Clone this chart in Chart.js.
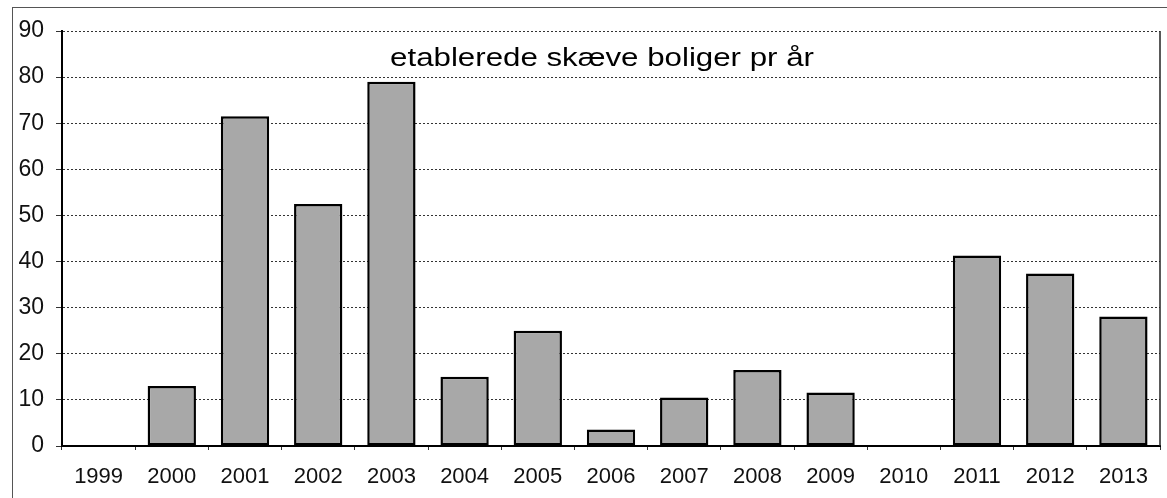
<!DOCTYPE html>
<html>
<head>
<meta charset="utf-8">
<script src="https://cdn.jsdelivr.net/npm/chart.js@4.4.0/dist/chart.umd.min.js"></script>
<style>
    body { margin: 0; background: #fff; }
    #wrap { position: relative; width: 1167px; height: 498px; }
    #frame { position: absolute; left: 12px; top: 7px; right: 0; bottom: 0; border-left: 1px solid #555; border-top: 1px solid #555; }
    canvas { position: absolute; left: 0; top: 0; }
</style>
</head>
<body>
<div id="wrap">
    <div id="frame"></div>
    <canvas id="chart" width="1167" height="498"></canvas>
</div>
<script>
const years = ['1999', '2000', '2001', '2002', '2003', '2004', '2005', '2006', '2007', '2008', '2009', '2010', '2011', '2012', '2013'];
const boliger = [0, 13, 71.5, 52.5, 79, 15, 25, 3.6, 10.5, 16.5, 11.6, 0, 41.3, 37.4, 28.1];
const yTicks = [0, 10, 20, 30, 40, 50, 60, 70, 80, 90];
const titleText = 'etablerede skæve boliger pr år';

// title sits inside the plot area, plus the right border of the plot
const insideTitle = {
    id: 'insideTitle',
    afterDraw(chart) {
        const ctx = chart.ctx;
        const area = chart.chartArea;
        ctx.save();
        ctx.strokeStyle = '#222';
        ctx.lineWidth = 1.5;
        ctx.beginPath();
        ctx.moveTo(area.right, area.top);
        ctx.lineTo(area.right, area.bottom);
        ctx.stroke();
        ctx.translate(602, 66);
        ctx.scale(1.25, 1);
        ctx.font = '25px "Liberation Sans", Arial, sans-serif';
        ctx.fillStyle = '#000';
        ctx.textAlign = 'center';
        ctx.textBaseline = 'alphabetic';
        ctx.fillText(titleText, 0, 0);
        ctx.restore();
    }
};

new Chart(document.getElementById('chart'), {
    type: 'bar',
    data: {
        labels: years,
        datasets: [{
            data: boliger,
            backgroundColor: '#a8a8a8',
            borderColor: '#000',
            borderWidth: 2.5,
            borderSkipped: false,
            barPercentage: 0.66,
            categoryPercentage: 1
        }]
    },
    options: {
        responsive: false,
        animation: false,
        layout: { padding: { top: 31, right: 7, left: 0, bottom: 0 } },
        plugins: {
            legend: { display: false },
            tooltip: { enabled: false }
        },
        scales: {
            x: {
                offset: true,
                grid: { display: true, drawOnChartArea: false, color: '#333', tickLength: 4, offset: true },
                border: { color: '#000', width: 2 },
                ticks: {
                    color: '#111',
                    padding: 14,
                    maxRotation: 0,
                    font: { family: '"Liberation Sans", Arial, sans-serif', size: 22 }
                },
                afterFit(scale) { scale.height = 52; }
            },
            y: {
                min: 0,
                max: 90,
                afterBuildTicks(scale) { scale.ticks = yTicks.map(v => ({ value: v })); },
                grid: { color: '#333', lineWidth: 1, tickLength: 6, tickBorderDash: [] },
                border: { color: '#000', width: 2, dash: [2, 2] },
                ticks: {
                    color: '#111',
                    padding: 12,
                    font: { family: '"Liberation Sans", Arial, sans-serif', size: 23 }
                },
                afterFit(scale) { scale.width = 62; }
            }
        }
    },
    plugins: [insideTitle]
});
</script>
</body>
</html>
